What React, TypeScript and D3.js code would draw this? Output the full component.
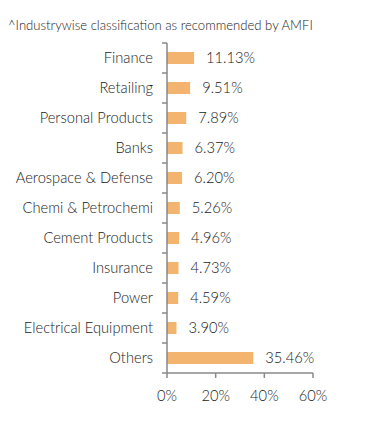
import React from "react";
import * as d3 from "d3";

const categories = ["Finance","Retailing","Personal Products","Banks","Aerospace & Defense","Chemi & Petrochemi","Cement Products","Insurance","Power","Electrical Equipment","Others"];
const values = [11.13,9.51,7.89,6.37,6.20,5.26,4.96,4.73,4.59,3.90,35.46];
const xTicks = [0,20,40,60];
const title = "^Industrywise classification as recommended by AMFI";

export default function App() {
  const W = 391, H = 427;
  const left = 167, right = 313, top = 43, bottom = 373;
  const x = d3.scaleLinear().domain([0, 60]).range([left, right]);
  const y = d3.scaleBand().domain(categories).range([top, bottom]).paddingInner(0.6).paddingOuter(0.3);
  const yOuter = d3.scaleBand().domain(categories).range([top, bottom]);
  const font = "Lato, 'Open Sans', sans-serif";
  const txt = "#1a1a1a";
  const axisColor = "#888";
  const fs = 14.7;
  return (
    <svg width={W} height={H} style={{ position: "absolute", left: 0, top: 0 }} fontFamily={font} fontWeight={300}>
      <rect width={W} height={H} fill="#fff" />
      <text x={8} y={30} fontSize={13.1} fill={txt}>{title}</text>
      {categories.map((c, i) => (
        <g key={c}>
          <rect x={x(0)} y={y(c)!} width={x(values[i]) - x(0)} height={y.bandwidth()} fill="#F2B46E" />
          <text x={x(values[i]) + 12} y={y(c)! + y.bandwidth() / 2} dy="0.35em" fontSize={fs} fill={txt}>{values[i].toFixed(2)}%</text>
          <text x={left - 14} y={yOuter(c)! + yOuter.bandwidth() / 2} dy="0.35em" fontSize={fs} fill={txt} textAnchor="end">{c}</text>
        </g>
      ))}
      <line x1={left} x2={left} y1={top} y2={bottom} stroke={axisColor} strokeWidth={1.5} />
      {categories.map((c) => (
        <line key={c} x1={left - 5} x2={left} y1={yOuter(c)!} y2={yOuter(c)!} stroke={axisColor} strokeWidth={1.5} />
      ))}
      <line x1={left - 5} x2={left} y1={bottom} y2={bottom} stroke={axisColor} strokeWidth={1.5} />
      <line x1={left} x2={right} y1={bottom} y2={bottom} stroke={axisColor} strokeWidth={1.5} />
      {xTicks.map((t) => (
        <g key={t}>
          <line x1={x(t)} x2={x(t)} y1={bottom} y2={bottom + 5} stroke={axisColor} strokeWidth={1.5} />
          <text x={x(t)} y={bottom + 28} fontSize={fs} fill={txt} textAnchor="middle">{t}%</text>
        </g>
      ))}
    </svg>
  );
}
